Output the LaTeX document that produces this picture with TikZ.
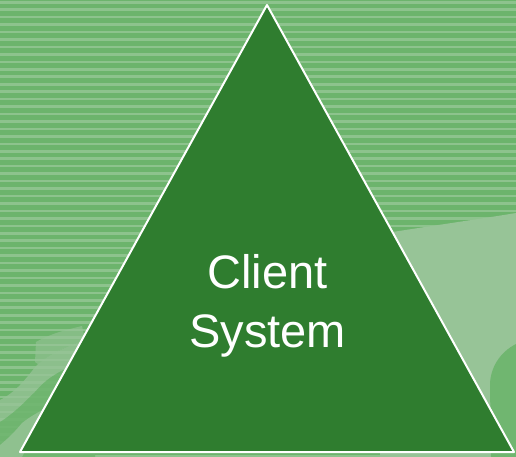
\documentclass[tikz,border=0pt]{standalone}
\usepackage{fontspec}
\setmainfont{Liberation Sans}
\definecolor{bggreen}{RGB}{108,180,108}
\definecolor{stripegreen}{RGB}{141,195,141}
\definecolor{lightgreen}{RGB}{151,196,151}
\definecolor{midgreen}{RGB}{112,182,112}
\definecolor{darkgreen}{RGB}{47,125,47}
\tikzset{
  tri/.style={fill=darkgreen, draw=white, line width=2pt, line join=round},
  label/.style={text=white, font=\fontsize{47}{56}\selectfont, anchor=base, inner sep=0pt}
}
\begin{document}
\begin{tikzpicture}[x=1pt,y=-1pt]
  \useasboundingbox (0,0) rectangle (516,457);
  % background
  \fill[bggreen] (0,0) rectangle (516,457);
  \foreach \i in {0,...,61} {
    \fill[stripegreen] (0,{\i*7.45+1}) rectangle (516,{\i*7.45+3.6});
  }
  % right light swoosh
  \fill[lightgreen] (380,234) .. controls (430,226) and (480,219) .. (516,213)
    -- (516,457) -- (380,457) -- cycle;
  % right medium blob
  \fill[midgreen] (491,457) -- (490,385) .. controls (490,368) and (500,352) .. (516,344)
    -- (516,457) -- cycle;
  % lower-left swooshes
  \fill[lightgreen, opacity=0.75] (0,400) .. controls (20,390) and (30,372) .. (38,364)
    .. controls (50,354) and (65,347) .. (85,340) -- (95,360)
    .. controls (70,365) and (50,374) .. (35,392)
    .. controls (25,402) and (12,415) .. (0,422) -- cycle;
  \fill[midgreen, opacity=0.9] (0,422) .. controls (12,415) and (25,402) .. (35,392)
    .. controls (50,374) and (70,365) .. (95,360) -- (95,457) -- (0,457) -- cycle;
  \fill[lightgreen, opacity=0.8] (0,445) .. controls (10,437) and (18,428) .. (22,423)
    .. controls (35,413) and (50,405) .. (70,400) -- (80,417)
    .. controls (55,422) and (40,432) .. (30,442) -- (22,457) -- (0,457) -- cycle;
  \fill[lightgreen, opacity=0.6] (35,362) -- (36,342) .. controls (50,334) and (65,330) .. (82,326) -- (85,340)
    .. controls (65,347) and (50,354) .. (38,364) -- cycle;
  % triangle
  \coordinate (apex) at (267,5);
  \coordinate (bl) at (20,452);
  \coordinate (br) at (514,452);
  \draw[tri] (apex) -- (br) -- (bl) -- cycle;
  % text
  \node[label] (client) at (267.5,288) {Client};
  \node[label] (system) at (267.5,347) {System};
\end{tikzpicture}
\end{document}
